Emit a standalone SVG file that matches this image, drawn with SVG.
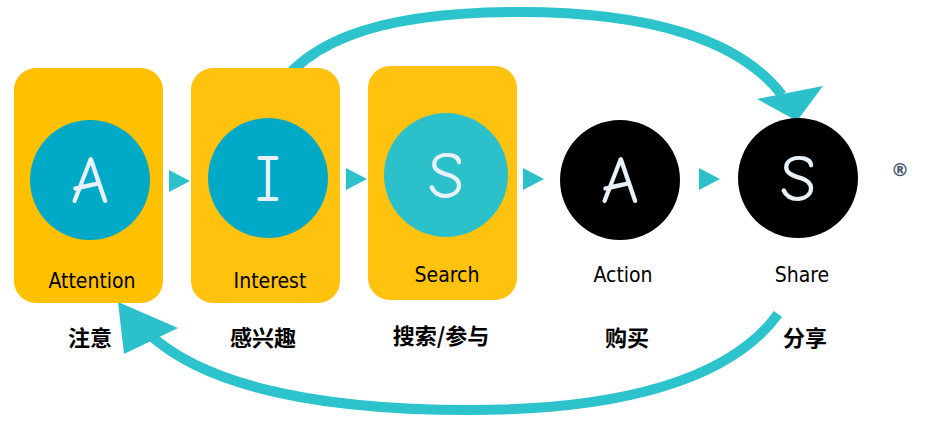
<svg xmlns="http://www.w3.org/2000/svg" width="948" height="421" viewBox="0 0 948 421">
<style>
.box{fill:#FFC20E}
.c1{fill:#00A9C6}.c2{fill:#2CC0CB}.cb{fill:#000}
.big{font-family:"Comic Neue","DejaVu Sans",sans-serif;font-size:66px;fill:#E8F0FA;text-anchor:middle;font-weight:normal}
.en{font-family:"DejaVu Sans Condensed","DejaVu Sans",sans-serif;font-size:21px;fill:#000;text-anchor:middle}
.cn{font-family:"Noto Sans CJK SC",sans-serif;font-size:22px;font-weight:bold;fill:#000;text-anchor:middle}
.tri{fill:#2CC0CB}
.arc{fill:none;stroke:#2CC3CC;stroke-width:10}
</style>
<g id="connectors">
<polygon class="tri" points="169,170 190,181 169,192"/>
<polygon class="tri" points="346,168 367,179 346,190"/>
<polygon class="tri" points="523,168 544,179 523,190"/>
<polygon class="tri" points="699,168 720,179 699,190"/>
<path class="arc" d="M262,118 C290,40 380,12 520,12 C650,12 740,40 782,95"/>
<polygon class="tri" points="797,121 757,99 823,86"/>
<path class="arc" d="M778,314 C730,380 620,410 470,410 C300,410 200,380 150,335"/>
<polygon class="tri" points="118,302 124,354 178,328"/>
</g>
<g id="attention">
<rect class="box" x="14" y="68" width="149" height="235" rx="22" style="fill:#FFC000"/>
<circle class="c1" cx="90" cy="180" r="60"/>
<text class="big" x="90" y="203">A</text>
<text class="en" x="92" y="288">Attention</text>
<text class="cn" x="90" y="346">注意</text>
</g>
<g id="interest">
<rect class="box" x="191" y="68" width="149" height="235" rx="22"/>
<circle class="c1" cx="268" cy="178" r="60"/>
<text class="big" x="268" y="201">I</text>
<text class="en" x="270" y="288">Interest</text>
<text class="cn" x="263" y="346">感兴趣</text>
</g>
<g id="search">
<rect class="box" x="368" y="66" width="149" height="234" rx="22"/>
<circle class="c2" cx="446" cy="175" r="62"/>
<text class="big" x="446" y="198">S</text>
<text class="en" x="447" y="282">Search</text>
<text class="cn" x="441" y="344">搜索/参与</text>
</g>
<g id="action">
<circle class="cb" cx="620" cy="180" r="60"/>
<text class="big" x="620" y="203">A</text>
<text class="en" x="623" y="282">Action</text>
<text class="cn" x="627" y="346">购买</text>
</g>
<g id="share">
<circle class="cb" cx="798" cy="178" r="60"/>
<text class="big" x="798" y="201">S</text>
<text class="en" x="802" y="282">Share</text>
<text class="cn" x="805" y="346">分享</text>
</g>
<text x="900" y="176" style="font-family:'DejaVu Sans',sans-serif;font-size:18px;font-weight:bold;fill:#44546A;text-anchor:middle">®</text>
</svg>
